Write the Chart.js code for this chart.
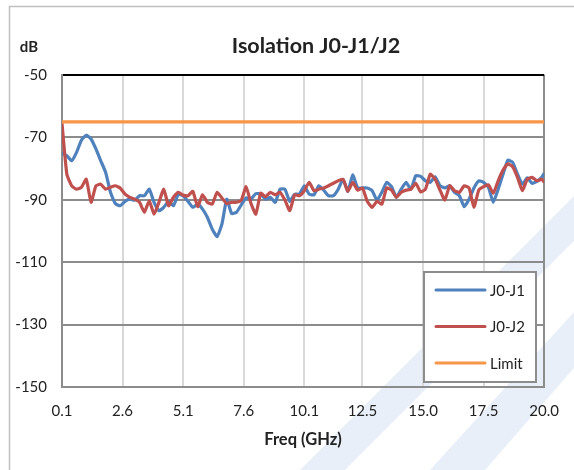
<!DOCTYPE html>
<html>
<head>
<meta charset="utf-8">
<script src="https://cdn.jsdelivr.net/npm/chart.js@4.4.1/dist/chart.umd.min.js"></script>
<style>
  html, body { margin: 0; padding: 0; background: #fff; }
  #wrap { width: 574px; height: 470px; position: relative; }
</style>
</head>
<body>
<div id="wrap"><canvas id="chart"></canvas></div>
<script>
// values
const freqGHz = [
  0.1, 0.3, 0.5, 0.7, 0.9, 1.1, 1.3, 1.5, 1.7, 1.9,
  2.1, 2.3, 2.5, 2.7, 2.9, 3.1, 3.3, 3.5, 3.7, 3.9,
  4.1, 4.3, 4.5, 4.7, 4.9, 5.1, 5.3, 5.5, 5.7, 5.9,
  6.1, 6.3, 6.5, 6.7, 6.9, 7.1, 7.3, 7.5, 7.7, 7.9,
  8.1, 8.3, 8.5, 8.7, 8.9, 9.1, 9.3, 9.5, 9.7, 9.9,
  10.1, 10.3, 10.5, 10.7, 10.9, 11.1, 11.3, 11.5, 11.7, 11.9,
  12.1, 12.3, 12.5, 12.7, 12.9, 13.1, 13.3, 13.5, 13.7, 13.9,
  14.1, 14.3, 14.5, 14.7, 14.9, 15.1, 15.3, 15.5, 15.7, 15.9,
  16.1, 16.3, 16.5, 16.7, 16.9, 17.1, 17.3, 17.5, 17.7, 17.9,
  18.1, 18.3, 18.5, 18.7, 18.9, 19.1, 19.3, 19.5, 19.7, 19.9,
  20.0
];
const j0j1 = [
  -75.0, -75.9, -77.5, -74.8, -70.9, -69.3, -70.5, -73.7, -77.5, -81.2,
  -87.6, -91.2, -91.9, -90.5, -89.8, -90.1, -88.7, -88.7, -86.6, -90.8,
  -93.5, -92.4, -90.5, -91.9, -88.2, -88.7, -90.5, -92.4, -91.4, -93.0,
  -95.6, -99.4, -101.8, -97.8, -89.8, -94.4, -94.0, -91.6, -89.4, -89.8,
  -88.0, -88.2, -89.8, -89.2, -90.8, -86.6, -86.6, -90.5, -88.2, -88.2,
  -85.5, -88.2, -88.4, -85.5, -86.9, -88.7, -88.7, -86.6, -83.4, -87.3,
  -82.0, -86.2, -86.2, -86.2, -87.1, -90.1, -87.6, -84.4, -85.8, -89.2,
  -86.6, -84.4, -86.6, -82.3, -82.5, -83.9, -84.4, -82.6, -85.5, -86.2,
  -85.5, -87.6, -88.7, -92.2, -89.8, -86.2, -83.9, -84.4, -86.0, -90.8,
  -86.6, -81.8, -77.3, -78.0, -81.8, -85.0, -83.0, -84.7, -84.1, -82.8,
  -81.5
];
const j0j2 = [
  -65.5, -81.8, -85.5, -86.6, -86.0, -83.4, -90.8, -85.5, -85.0, -86.6,
  -86.0, -85.5, -86.2, -88.2, -89.2, -89.8, -90.8, -94.0, -90.3, -94.6,
  -90.8, -86.6, -91.9, -89.2, -87.6, -88.5, -88.7, -87.3, -92.2, -88.4,
  -90.8, -91.4, -87.6, -89.4, -91.2, -90.8, -90.8, -90.1, -85.8, -91.2,
  -94.6, -87.9, -89.0, -87.6, -88.4, -87.6, -90.1, -93.5, -88.4, -88.7,
  -87.1, -84.4, -87.1, -86.6, -86.2, -85.5, -84.7, -83.9, -83.4, -87.3,
  -84.4, -86.9, -86.2, -90.5, -92.4, -90.5, -91.4, -86.2, -86.9, -89.2,
  -87.6, -86.9, -86.6, -84.7, -87.5, -86.6, -81.8, -83.4, -86.9, -90.1,
  -85.5, -87.1, -87.6, -85.5, -86.2, -92.4, -86.9, -85.8, -85.2, -87.9,
  -83.9, -80.5, -78.5, -79.4, -82.8, -87.1, -83.4, -82.8, -83.9, -83.4,
  -84.4
];
const limitDb = -65;
const xTickValues = [0.1, 2.6, 5.1, 7.6, 10.1, 12.5, 15.0, 17.5, 20.0];
const yTickValues = [-150, -130, -110, -90, -70, -50];

const FONT = 'Lato, "Liberation Sans", sans-serif';
const TEXT = '#222222';

const toPoints = (xs, ys) => xs.map((x, i) => ({ x, y: ys[i] }));

// background: chart border + faint watermark
const backdrop = {
  id: 'backdrop',
  beforeDraw(chart) {
    const ctx = chart.ctx;
    ctx.save();
    ctx.fillStyle = '#e8eff8';
    ctx.beginPath();
    ctx.moveTo(300, 470); ctx.lineTo(345, 470); ctx.lineTo(574, 241); ctx.lineTo(574, 196);
    ctx.closePath(); ctx.fill();
    ctx.beginPath();
    ctx.moveTo(430, 470); ctx.lineTo(485, 470); ctx.lineTo(574, 368); ctx.lineTo(574, 312);
    ctx.closePath(); ctx.fill();
    ctx.strokeStyle = '#c0c0c0';
    ctx.lineWidth = 1.5;
    ctx.strokeRect(9.5, 6.5, 620, 500);
    ctx.restore();
  },
  afterDraw(chart) {
    const ctx = chart.ctx;
    ctx.save();
    ctx.fillStyle = TEXT;
    ctx.textBaseline = 'middle';
    ctx.textAlign = 'center';
    ctx.font = 'bold 21.5px ' + FONT;
    ctx.fillText('Isolation J0-J1/J2', 316, 46);
    ctx.font = 'bold 15px ' + FONT;
    ctx.fillText('dB', 29, 47);
    ctx.restore();
  }
};

// boxed legend inside the plot, one entry per row
const boxLegend = {
  id: 'boxLegend',
  afterDraw(chart) {
    const ctx = chart.ctx;
    const x0 = 424, y0 = 272, w = 112, h = 110;
    ctx.save();
    ctx.fillStyle = '#ffffff';
    ctx.fillRect(x0, y0, w, h);
    ctx.strokeStyle = '#8c8c8c';
    ctx.lineWidth = 2;
    ctx.strokeRect(x0, y0, w, h);
    ctx.font = '15px ' + FONT;
    ctx.textBaseline = 'middle';
    ctx.textAlign = 'left';
    chart.data.datasets.forEach((ds, i) => {
      const y = 290 + i * 36.5;
      ctx.strokeStyle = ds.borderColor;
      ctx.lineWidth = 3;
      ctx.lineCap = 'round';
      ctx.beginPath();
      ctx.moveTo(436, y);
      ctx.lineTo(485, y);
      ctx.stroke();
      ctx.fillStyle = TEXT;
      ctx.fillText(ds.label, 490, y + 1);
    });
    ctx.restore();
  }
};

new Chart(document.getElementById('chart'), {
  type: 'line',
  data: {
    datasets: [
      { label: 'J0-J1', data: toPoints(freqGHz, j0j1), borderColor: '#4f81bd', order: 3 },
      { label: 'J0-J2', data: toPoints(freqGHz, j0j2), borderColor: '#c0504d', order: 2 },
      { label: 'Limit', data: [{ x: freqGHz[0], y: limitDb }, { x: freqGHz[freqGHz.length - 1], y: limitDb }], borderColor: '#f79646', order: 1 }
    ]
  },
  options: {
    responsive: true,
    maintainAspectRatio: false,
    animation: false,
    layout: { padding: { left: 0, right: 21, top: 75, bottom: 0 } },
    elements: {
      line: { borderWidth: 3.2, tension: 0.15, fill: false, borderJoinStyle: 'round' },
      point: { radius: 0 }
    },
    plugins: {
      legend: { display: false },
      title: { display: false },
      tooltip: { enabled: false }
    },
    scales: {
      x: {
        type: 'linear',
        min: 0.1,
        max: 20.0,
        afterBuildTicks: (scale) => { scale.ticks = xTickValues.map(v => ({ value: v })); },
        afterFit: (scale) => { scale.height = 83; },
        ticks: {
          color: TEXT,
          font: { family: FONT, size: 15 },
          padding: 15,
          maxRotation: 0,
          callback: (v) => Number(v).toFixed(1)
        },
        grid: {
          drawTicks: false,
          lineWidth: 2,
          color: (c) => (c.tick && c.tick.value === 20.0) ? '#8c8c8c' : '#d9d9d9'
        },
        border: { color: '#8c8c8c', width: 2 },
        title: {
          display: true,
          text: 'Freq (GHz)',
          color: TEXT,
          font: { family: FONT, size: 16.5, weight: 'bold' },
          padding: { top: 0, bottom: 20 }
        }
      },
      y: {
        min: -150,
        max: -50,
        afterBuildTicks: (scale) => { scale.ticks = yTickValues.map(v => ({ value: v })); },
        afterFit: (scale) => { scale.width = 62; },
        ticks: {
          color: TEXT,
          font: { family: FONT, size: 15 },
          padding: 15
        },
        grid: {
          drawTicks: false,
          lineWidth: 2,
          color: (c) => (c.tick && c.tick.value === -50) ? '#000000' : '#8c8c8c'
        },
        border: { color: '#8c8c8c', width: 2 }
      }
    }
  },
  plugins: [backdrop, boxLegend]
});
</script>
</body>
</html>
